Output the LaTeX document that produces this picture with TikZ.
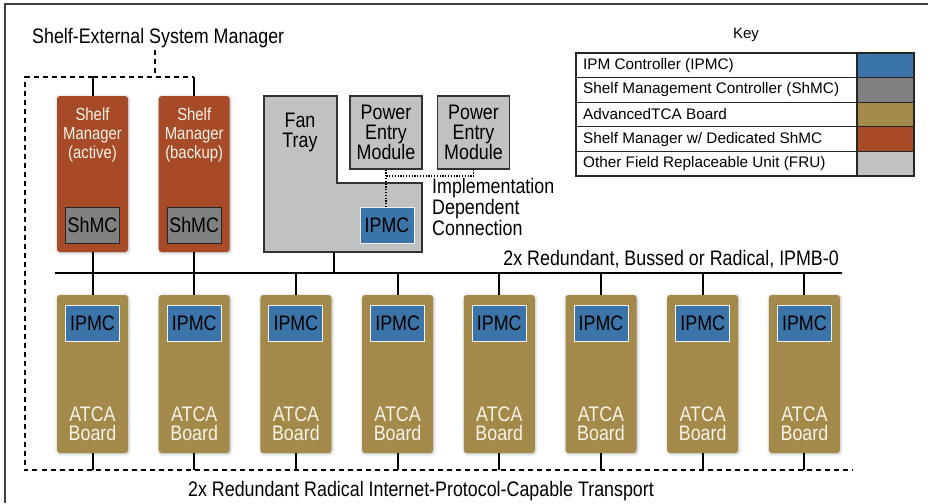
\documentclass[tikz,border=0pt]{standalone}
\usepackage{fontspec}
\setmainfont{Liberation Sans}
\newfontfamily\narrowfont{Liberation Sans}[FakeStretch=0.85]
\usetikzlibrary{shadows.blur,calc}

\definecolor{ipmcblue}{RGB}{58,116,168}
\definecolor{shmcgray}{RGB}{128,128,128}
\definecolor{atcagold}{RGB}{163,138,74}
\definecolor{shelfrust}{RGB}{166,74,39}
\definecolor{frugray}{RGB}{192,193,195}
\definecolor{cardtext}{RGB}{250,243,232}

\tikzset{
  bigtext/.style={font=\narrowfont\fontsize{21}{19.5}\selectfont},
  mgrtext/.style={font=\narrowfont\fontsize{17.5}{18.8}\selectfont},
  keytext/.style={font=\fontsize{15.3}{17}\selectfont},
  card/.style={rounded corners=3pt, minimum width=71pt, inner sep=0pt,
    blur shadow={shadow xshift=0.6pt, shadow yshift=-0.8pt,
      shadow blur radius=3pt, shadow opacity=30}},
  atcaboard/.style={card, fill=atcagold, minimum height=158pt},
  shelfmgr/.style={card, fill=shelfrust, minimum height=156pt},
  ipmcbox/.style={fill=ipmcblue, draw=white!88!gray, line width=0.9pt,
    minimum width=54pt, minimum height=36pt, inner sep=0pt, bigtext},
  shmcbox/.style={fill=shmcgray, draw=black!85, line width=1pt,
    minimum width=54pt, minimum height=36pt, inner sep=0pt, bigtext},
  frubox/.style={fill=frugray, draw=black!80, line width=1.1pt},
  cardlabel/.style={bigtext, text=cardtext, align=center, inner sep=0pt},
  bus/.style={line width=2pt},
  link/.style={line width=2pt},
  mgmtlan/.style={line width=2pt, dash pattern=on 5pt off 4pt},
  impl/.style={line width=1.1pt, dash pattern=on 1.2pt off 1.6pt},
  keyline/.style={line width=1.1pt, draw=black!85},
}

\begin{document}
\begin{tikzpicture}[x=1pt,y=-1pt]
\useasboundingbox (0,0) rectangle (928,503);

% frame edges
\draw[line width=1.4pt, black!75] (5,503) -- (5,4) -- (928,4);

% shelf-external system manager and its dashed link
\node[bigtext, anchor=west, inner sep=0pt] (sysmgr) at (32,38) {Shelf-External System Manager};
\coordinate (sysdrop) at (155,50);
\coordinate (lanTL) at (25,77);
\coordinate (lanBL) at (25,470);
\coordinate (lanBR) at (853,470);

% IPMB-0 bus
\coordinate (busL) at (55,273);
\coordinate (busR) at (842,273);
\draw[bus] (busL) -- (busR);
\node[bigtext, anchor=south east, inner sep=0pt] (buslabel) at (839,268)
  {2x Redundant, Bussed or Radical, IPMB-0};

% shelf managers
\node[shelfmgr] (sma) at (92.5,174) {};
\node[shelfmgr] (smb) at (194.2,174) {};
\node[cardlabel, mgrtext] (smat) at (92.5,135) {Shelf\\Manager\\(active)};
\node[cardlabel, mgrtext] (smbt) at (194.2,135) {Shelf\\Manager\\(backup)};
\node[shmcbox] (shmca) at (92.5,225) {ShMC};
\node[shmcbox] (shmcb) at (194.2,225) {ShMC};

% dashed management connection
\draw[mgmtlan] (sysdrop) -- (sysdrop |- lanTL);
\draw[mgmtlan] (sma.north |- lanTL) -- (lanTL) -- (lanBL) -- (lanBR);
\draw[mgmtlan] (sma.north |- lanTL) -- (smb.north |- lanTL);
\draw[link] (sma.north |- lanTL) -- (sma.north);
\draw[link] (smb.north |- lanTL) -- (smb.north);
\draw[link] (sma.south) -- (sma.south |- busL);
\draw[link] (smb.south) -- (smb.south |- busL);

% fan tray
\coordinate (fanbot) at (334,252);
\draw[frubox] (264,96) -- (337,96) -- (337,183) -- (422,183) -- (422,252) -- (264,252) -- cycle;
\node[bigtext, align=center, inner sep=0pt] (fantxt) at (300,132.5) {Fan\\Tray};
\node[ipmcbox] (fanipmc) at (387,225.5) {IPMC};
\draw[link] (fanbot) -- (fanbot |- busL);

% power entry modules
\node[frubox, minimum width=72pt, minimum height=73pt, inner sep=0pt, bigtext, align=center]
  (pem1) at (386,132.5) {Power\\Entry\\Module};
\node[frubox, minimum width=72pt, minimum height=73pt, inner sep=0pt, bigtext, align=center]
  (pem2) at (473.5,132.5) {Power\\Entry\\Module};
\coordinate (pemjoin) at (386,176);
\draw[impl] (pem1.south) -- (pem1.south |- fanipmc.north);
\draw[impl] (pem2.south) |- (pemjoin);
\node[bigtext, anchor=west, align=left, inner sep=0pt] (impltxt) at (432,207)
  {Implementation\\Dependent\\Connection};

% ATCA boards
\foreach \i in {1,...,8}{
  \pgfmathsetmacro{\cx}{92.5+101.7*(\i-1)}
  \node[atcaboard] (b\i) at (\cx,374) {};
  \node[ipmcbox] (ip\i) at (\cx,323) {IPMC};
  \node[cardlabel] (bt\i) at (\cx,424) {ATCA\\Board};
  \draw[link] (b\i.north |- busL) -- (b\i.north);
  \draw[link] (b\i.south) -- (b\i.south |- lanBL);
}

\node[bigtext, inner sep=0pt] (lanlabel) at (421,491)
  {2x Redundant Radical Internet-Protocol-Capable Transport};

% key
\node[font=\fontsize{15}{16}\selectfont, inner sep=0pt] (keytitle) at (746,35) {Key};
\fill[ipmcblue]  (857,53)    rectangle (914,77.6);
\fill[shmcgray]  (857,77.6)  rectangle (914,102.2);
\fill[atcagold]  (857,102.2) rectangle (914,126.8);
\fill[shelfrust] (857,126.8) rectangle (914,151.4);
\fill[frugray]   (857,151.4) rectangle (914,176);
\draw[keyline] (576,53) rectangle (914,176);
\draw[keyline] (857,53) -- (857,176);
\foreach \y in {77.6,102.2,126.8,151.4}{
  \draw[keyline] (576,\y) -- (914,\y);
}
\node[keytext, anchor=west, inner sep=0pt] (k1) at (583,65.3) {IPM Controller (IPMC)};
\node[keytext, anchor=west, inner sep=0pt] (k2) at (583,89.9) {Shelf Management Controller (ShMC)};
\node[keytext, anchor=west, inner sep=0pt] (k3) at (583,114.5) {AdvancedTCA Board};
\node[keytext, anchor=west, inner sep=0pt] (k4) at (583,139.1) {Shelf Manager w/ Dedicated ShMC};
\node[keytext, anchor=west, inner sep=0pt] (k5) at (583,163.7) {Other Field Replaceable Unit (FRU)};
\end{tikzpicture}
\end{document}
